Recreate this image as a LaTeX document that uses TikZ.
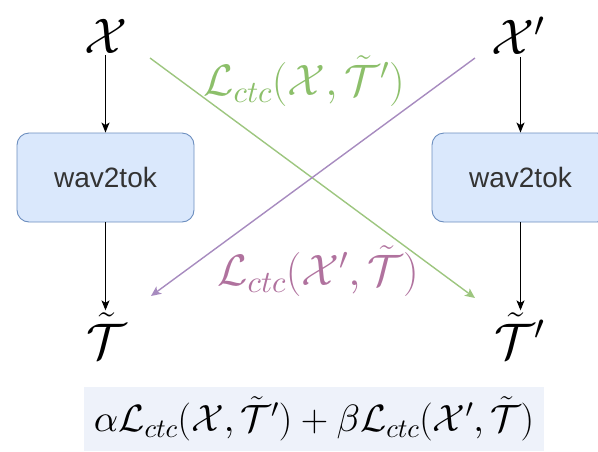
\RequirePackage{fix-cm}
\documentclass[tikz,border=0pt]{standalone}
\usepackage{fontspec}
\setsansfont{Liberation Sans}
\usetikzlibrary{arrows.meta}
\DeclareFontShape{OML}{cmm}{m}{it}{<->cmmi10}{}
\DeclareFontShape{OMS}{cmsy}{m}{n}{<->cmsy10}{}
\definecolor{boxfill}{HTML}{DAE8FC}
\definecolor{boxdraw}{HTML}{6C8EBF}
\definecolor{gline}{HTML}{9DC67F}
\definecolor{gtext}{HTML}{8CBF6A}
\definecolor{pline}{HTML}{A78BBF}
\definecolor{ptext}{HTML}{B0729E}
\definecolor{fbg}{HTML}{EEF2FA}
\definecolor{tokgray}{HTML}{333333}
\begin{document}
\begin{tikzpicture}[x=1pt,y=-1pt,
  bigsym/.style={inner sep=2pt, font=\fontsize{50}{60}\selectfont},
  tokbox/.style={draw=boxdraw, fill=boxfill, rounded corners=12pt, line width=0.9pt,
    minimum width=177pt, minimum height=89pt, text=tokgray,
    font=\sffamily\fontsize{28}{34}\selectfont},
  blackarr/.style={line width=1.1pt, -{Stealth[length=10pt,width=8pt,inset=2.5pt]}},
  colarr/.style={line width=1.4pt, -{Stealth[length=10pt,width=9pt,inset=2.5pt]}},
  losslabel/.style={inner sep=0pt, font=\fontsize{44}{52}\selectfont}
]
\useasboundingbox (0,0) rectangle (598,451);

\node[bigsym] (X) at (106,36) {$\mathcal{X}$};
\node[bigsym] (Xp) at (518,36) {$\mathcal{X}'$};
\node[tokbox] (lbox) at (105.5,177.5) {wav2tok};
\node[tokbox] (rbox) at (520.5,177.5) {wav2tok};
\node[bigsym, anchor=base] (T) at (106,358) {$\tilde{\mathcal{T}}$};
\node[bigsym, anchor=base] (Tp) at (520,358) {$\tilde{\mathcal{T}}'$};

\draw[blackarr] (lbox.north |- X.south) -- (lbox.north);
\draw[blackarr] (rbox.north |- Xp.south) -- (rbox.north);
\draw[blackarr] (lbox.south) -- (lbox.south |- T.north);
\draw[blackarr] (rbox.south) -- (rbox.south |- Tp.north);

\coordinate (gs) at (150,58);
\coordinate (ge) at (475,298);
\coordinate (ps) at (475,58);
\coordinate (pe) at (151,296);
\draw[colarr, gline] (gs) -- (ge);
\draw[colarr, pline] (ps) -- (pe);

\node[losslabel, text=gtext] (gl) at (304,81) {$\mathcal{L}_{ctc}(\mathcal{X},\tilde{\mathcal{T}}')$};
\node[losslabel, text=ptext] (pl) at (318,271) {$\mathcal{L}_{ctc}(\mathcal{X}',\tilde{\mathcal{T}})$};

\node[fill=fbg, minimum width=460pt, minimum height=64pt, font=\fontsize{38}{46}\selectfont] (F) at (314,419)
  {$\alpha\mathcal{L}_{ctc}(\mathcal{X},\tilde{\mathcal{T}}')+\beta\mathcal{L}_{ctc}(\mathcal{X}',\tilde{\mathcal{T}})$};
\end{tikzpicture}
\end{document}
